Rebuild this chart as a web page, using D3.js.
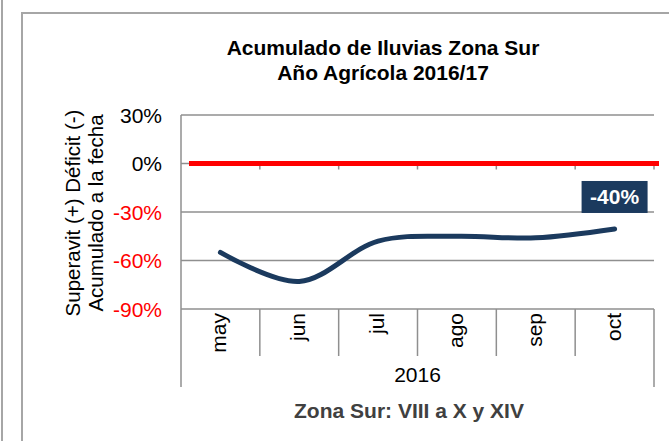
<!DOCTYPE html>
<meta charset="utf-8">
<style>
  body { margin: 0; background: #fff; }
  text { font-family: "Liberation Sans", Arial, sans-serif; }
</style>
<body>
<script src="https://cdn.jsdelivr.net/npm/d3@7"></script>
<script>

// data
var months = ["may", "jun", "jul", "ago", "sep", "oct"];
var acumulado = [-55, -73, -48, -45, -46, -40.5];
var referencia = [0, 0, 0, 0, 0, 0];
var yTicks = [30, 0, -30, -60, -90];
var year = "2016";
var lastLabel = "-40%";

var width = 669, height = 441;
var plot = {left: 181, right: 654, top: 115, bottom: 309};

var svg = d3.select("body").append("svg")
    .attr("width", width)
    .attr("height", height);

// frames
svg.append("line")
    .attr("x1", 2).attr("x2", 2).attr("y1", 0).attr("y2", height)
    .attr("stroke", "#a6a6a6").attr("stroke-width", 2);
svg.append("rect")
    .attr("x", 22).attr("y", 13)
    .attr("width", width).attr("height", height)
    .attr("fill", "none").attr("stroke", "#a6a6a6").attr("stroke-width", 2);

var x = d3.scaleBand().domain(months).range([plot.left, plot.right]);
var y = d3.scaleLinear().domain([-90, 30]).range([plot.bottom, plot.top]);

// gridlines
svg.append("g").selectAll("line")
  .data(yTicks.filter(d => d !== 0))
  .enter().append("line")
    .attr("x1", plot.left).attr("x2", plot.right)
    .attr("y1", d => y(d)).attr("y2", d => y(d))
    .attr("stroke", "#8f8f8f").attr("stroke-width", 1.5);

// value axis
svg.append("line")
    .attr("x1", plot.left).attr("x2", plot.left)
    .attr("y1", plot.top).attr("y2", 387)
    .attr("stroke", "#8f8f8f").attr("stroke-width", 1.5);

svg.append("g").selectAll("text")
  .data(yTicks)
  .enter().append("text")
    .attr("x", 162)
    .attr("y", d => y(d) + 7.5)
    .attr("text-anchor", "end")
    .attr("font-size", 21)
    .attr("fill", d => d < 0 ? "#ff0000" : "#000")
    .text(d => d + "%");

// category axis at 0 with ticks
svg.append("line")
    .attr("x1", plot.left).attr("x2", plot.right)
    .attr("y1", y(0)).attr("y2", y(0))
    .attr("stroke", "#8f8f8f").attr("stroke-width", 1.5);
svg.append("g").selectAll("line")
  .data(months.slice(1).concat(["end"]))
  .enter().append("line")
    .attr("x1", d => d === "end" ? plot.right : x(d))
    .attr("x2", d => d === "end" ? plot.right : x(d))
    .attr("y1", y(0)).attr("y2", y(0) + 6)
    .attr("stroke", "#8f8f8f").attr("stroke-width", 1.5);

// multi-level labels at the bottom
svg.append("g").selectAll("line")
  .data(months.slice(1))
  .enter().append("line")
    .attr("x1", d => x(d)).attr("x2", d => x(d))
    .attr("y1", plot.bottom).attr("y2", 356)
    .attr("stroke", "#8f8f8f").attr("stroke-width", 1.5);
svg.append("line")
    .attr("x1", plot.right).attr("x2", plot.right)
    .attr("y1", plot.bottom).attr("y2", 387)
    .attr("stroke", "#8f8f8f").attr("stroke-width", 1.5);

svg.append("g").selectAll("text")
  .data(months)
  .enter().append("text")
    .attr("transform", d => "translate(" + (x(d) + x.bandwidth() / 2 + 6) + ",313) rotate(-90)")
    .attr("text-anchor", "end")
    .attr("font-size", 21)
    .text(d => d);

svg.append("text")
    .attr("x", (plot.left + plot.right) / 2)
    .attr("y", 382)
    .attr("text-anchor", "middle")
    .attr("font-size", 21)
    .text(year);

// reference line at 0
svg.append("line")
    .attr("x1", plot.left + 8).attr("x2", plot.right + 5)
    .attr("y1", y(referencia[0])).attr("y2", y(referencia[0]))
    .attr("stroke", "#ff0000").attr("stroke-width", 5);

// accumulated series
var line = d3.line()
    .x((d, i) => x(months[i]) + x.bandwidth() / 2)
    .y(d => y(d))
    .curve(d3.curveCatmullRom.alpha(0.5));

svg.append("path")
    .datum(acumulado)
    .attr("d", line)
    .attr("fill", "none")
    .attr("stroke", "#1b3a5e")
    .attr("stroke-width", 5)
    .attr("stroke-linecap", "round");

// last value label
var lx = x(months[5]) + x.bandwidth() / 2;
var ly = y(acumulado[5]);
svg.append("rect")
    .attr("x", lx - 33).attr("y", ly - 48)
    .attr("width", 66).attr("height", 32)
    .attr("fill", "#1b3a5e");
svg.append("text")
    .attr("x", lx).attr("y", ly - 24.5)
    .attr("text-anchor", "middle")
    .attr("font-size", 21)
    .attr("font-weight", "bold")
    .attr("fill", "#fff")
    .text(lastLabel);

// titles
svg.append("text")
    .attr("x", 383).attr("y", 55)
    .attr("text-anchor", "middle")
    .attr("font-size", 21).attr("font-weight", "bold")
    .text("Acumulado de Iluvias Zona Sur");
svg.append("text")
    .attr("x", 383).attr("y", 80)
    .attr("text-anchor", "middle")
    .attr("font-size", 21).attr("font-weight", "bold")
    .text("Año Agrícola 2016/17");

svg.append("text")
    .attr("transform", "translate(80,213) rotate(-90)")
    .attr("text-anchor", "middle")
    .attr("font-size", 20.5)
    .text("Superavit (+) Déficit (-)");
svg.append("text")
    .attr("transform", "translate(103,213) rotate(-90)")
    .attr("text-anchor", "middle")
    .attr("font-size", 20.5)
    .text("Acumulado a la fecha");

svg.append("text")
    .attr("x", 409).attr("y", 418)
    .attr("text-anchor", "middle")
    .attr("font-size", 21).attr("font-weight", "bold")
    .attr("fill", "#404040")
    .text("Zona Sur: VIII a X y XIV");

</script>
</body>
